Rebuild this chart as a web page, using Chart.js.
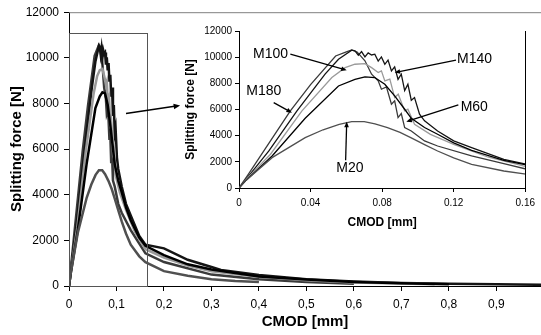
<!DOCTYPE html>
<html>
<head>
<meta charset="utf-8">
<script src="https://cdn.jsdelivr.net/npm/chart.js@4/dist/chart.umd.min.js"></script>
<style>
  html, body { margin: 0; padding: 0; background: #fff; overflow: hidden; }
  #wrap { position: relative; width: 541px; height: 335px; }
  #principal { position: absolute; left: 0; top: 0; }
  #detalhe { position: absolute; left: 180px; top: 20px; }
</style>
</head>
<body>
<div id="wrap">
  <canvas id="principal" width="541" height="335"></canvas>
  <canvas id="detalhe" width="360" height="212"></canvas>
</div>
<script>
// =====================================================
// DADOS — CMOD [mm] x FORÇA [N]
// =====================================================
const seriesNames = ["M20", "M60", "M100", "M140", "M180"];

const cmodM20  = [0, 0.004, 0.0185, 0.037, 0.047, 0.056, 0.063, 0.07, 0.076, 0.083, 0.09, 0.096, 0.104, 0.111, 0.12, 0.13, 0.148, 0.161, 0.2, 0.25, 0.3, 0.35, 0.4];
const forceM20 = [0, 600, 2320, 3850, 4450, 4870, 5070, 5070, 4900, 4610, 4250, 3850, 3300, 2830, 2300, 1810, 1300, 1045, 650, 450, 300, 220, 170];

const cmodM60  = [0, 0.004, 0.0185, 0.037, 0.0556, 0.0648, 0.0704, 0.0759, 0.0815, 0.087, 0.0926, 0.0963, 0.1037, 0.111, 0.12, 0.13, 0.148, 0.161, 0.2, 0.25, 0.3, 0.4, 0.5, 0.6, 0.7, 0.8];
const forceM60 = [0, 600, 2450, 5330, 7800, 8310, 8490, 8440, 7930, 7040, 6020, 5330, 4620, 4110, 3450, 2880, 2120, 1760, 1350, 950, 720, 420, 280, 180, 120, 80];

const cmodM100  = [0, 0.004, 0.0176, 0.0352, 0.0519, 0.0593, 0.0648, 0.0704, 0.0741, 0.0778, 0.0796, 0.0815, 0.0843, 0.087, 0.089, 0.0926, 0.0944, 0.0981, 0.107, 0.12, 0.139, 0.161, 0.2, 0.25, 0.3, 0.4, 0.5, 0.6, 0.77];
const forceM100 = [0, 650, 2580, 5890, 8440, 9200, 9460, 9510, 9200, 8820, 8950, 8190, 8330, 6910, 7170, 5890, 6020, 4870, 4100, 3340, 2370, 1610, 1250, 900, 650, 400, 250, 150, 80];

const cmodM140  = [0, 0.0167, 0.0324, 0.0481, 0.0556, 0.063, 0.0648, 0.0667, 0.0685, 0.0704, 0.0722, 0.0741, 0.0759, 0.0778, 0.0796, 0.0815, 0.0833, 0.0852, 0.087, 0.0889, 0.0907, 0.0926, 0.0944, 0.0963, 0.0981, 0.1009, 0.1037, 0.111, 0.12, 0.13, 0.148, 0.161, 0.2, 0.25, 0.3, 0.32, 0.4, 0.5, 0.6, 0.7, 0.8, 0.9, 1.0];
const forceM140 = [0, 2830, 5890, 8700, 9840, 10530, 10480, 10150, 10430, 10020, 10330, 10170, 10230, 9700, 10020, 9450, 9770, 8950, 9260, 8300, 8700, 7450, 7930, 6700, 6910, 5640, 5130, 4360, 3600, 3090, 2190, 1810, 1650, 1150, 830, 700, 480, 300, 200, 130, 100, 80, 50];

const cmodM180  = [0, 0.005, 0.0287, 0.04, 0.054, 0.06, 0.063, 0.066, 0.0704, 0.0741, 0.0778, 0.0796, 0.0824, 0.0852, 0.087, 0.0889, 0.0907, 0.0926, 0.0963, 0.1037, 0.111, 0.13, 0.148, 0.161, 0.2, 0.3, 0.4, 0.5, 0.6];
const forceM180 = [0, 1000, 5890, 7900, 10090, 10400, 10550, 10400, 9720, 8700, 8190, 7550, 7730, 6400, 6660, 5380, 5690, 4620, 4360, 3600, 3210, 2450, 1860, 1430, 1050, 500, 300, 180, 100];

const seriesCmod  = [cmodM20, cmodM60, cmodM100, cmodM140, cmodM180];
const seriesForce = [forceM20, forceM60, forceM100, forceM140, forceM180];
const seriesColors = ["#505050", "#000000", "#9a9a9a", "#141414", "#3a3a3a"];

// caixa de zoom e seta no gráfico principal (unidades dos eixos)
const boxCmod  = [0, 0.164];
const boxForce = [0, 11100];
const zoomArrowFrom = [0.12, 7560];
const zoomArrowTo   = [0.234, 7910];

// rótulos do detalhe (unidades dos eixos)
const labelAt   = [[0.062, 1550], [0.1315, 6210], [0.0176, 10260], [0.1317, 9860], [0.0139, 7410]];
const arrowFrom = [[0.0596, 2115], [0.1226, 6350], [0.0287, 10225], [0.1213, 9770], [0.0194, 6530]];
const arrowTo   = [[0.0602, 5070], [0.0935, 5070], [0.0602, 9000], [0.087, 8820], [0.0296, 5760]];

const FONTE = "'Liberation Sans', Arial, sans-serif";

// =====================================================
// HELPERS
// =====================================================
function montarDatasets(espessura) {
  return seriesNames.map((nome, i) => ({
    label: nome,
    data: seriesCmod[i].map((x, k) => ({ x, y: seriesForce[i][k] })),
    borderColor: seriesColors[i],
    backgroundColor: seriesColors[i],
    borderWidth: espessura,
    pointRadius: 0,
    showLine: true,
    tension: 0
  }));
}

function desenharSeta(ctx, x1, y1, x2, y2, cabeca) {
  const ang = Math.atan2(y2 - y1, x2 - x1);
  ctx.beginPath();
  ctx.moveTo(x1, y1);
  ctx.lineTo(x2 - Math.cos(ang) * cabeca * 0.8, y2 - Math.sin(ang) * cabeca * 0.8);
  ctx.stroke();
  ctx.beginPath();
  ctx.moveTo(x2, y2);
  ctx.lineTo(x2 - cabeca * Math.cos(ang - 0.4), y2 - cabeca * Math.sin(ang - 0.4));
  ctx.lineTo(x2 - cabeca * Math.cos(ang + 0.4), y2 - cabeca * Math.sin(ang + 0.4));
  ctx.closePath();
  ctx.fill();
}

function eixo(opts) {
  return Object.assign({
    type: "linear",
    border: { display: true, color: "#000", width: 1 }
  }, opts);
}

// =====================================================
// PLUGINS
// =====================================================
const extrasPrincipal = {
  id: "extrasPrincipal",
  afterDatasetsDraw(chart) {
    const { ctx, chartArea: a, scales: { x, y } } = chart;
    ctx.save();
    ctx.lineWidth = 1;
    ctx.strokeStyle = "#808080";
    ctx.beginPath();
    ctx.moveTo(a.left, a.top + 0.5);
    ctx.lineTo(a.right, a.top + 0.5);
    ctx.stroke();

    const bx1 = Math.round(x.getPixelForValue(boxCmod[0])) + 0.5;
    const bx2 = Math.round(x.getPixelForValue(boxCmod[1])) + 0.5;
    const by1 = Math.round(y.getPixelForValue(boxForce[1])) + 0.5;
    const by2 = Math.round(y.getPixelForValue(boxForce[0])) + 0.5;
    ctx.strokeStyle = "#555";
    ctx.strokeRect(bx1, by1, bx2 - bx1, by2 - by1);

    ctx.strokeStyle = "#000";
    ctx.fillStyle = "#000";
    ctx.lineWidth = 1.5;
    desenharSeta(ctx,
      x.getPixelForValue(zoomArrowFrom[0]), y.getPixelForValue(zoomArrowFrom[1]),
      x.getPixelForValue(zoomArrowTo[0]), y.getPixelForValue(zoomArrowTo[1]), 7);
    ctx.restore();
  }
};

const extrasDetalhe = {
  id: "extrasDetalhe",
  afterDatasetsDraw(chart) {
    const { ctx, chartArea: a, scales: { x, y } } = chart;
    ctx.save();
    ctx.strokeStyle = "#000";
    ctx.lineWidth = 1;
    ctx.beginPath();
    ctx.moveTo(Math.round(a.right) + 0.5, a.top);
    ctx.lineTo(Math.round(a.right) + 0.5, a.bottom);
    ctx.stroke();

    ctx.fillStyle = "#000";
    ctx.lineWidth = 1.3;
    seriesNames.forEach((nome, i) => {
      desenharSeta(ctx,
        x.getPixelForValue(arrowFrom[i][0]), y.getPixelForValue(arrowFrom[i][1]),
        x.getPixelForValue(arrowTo[i][0]), y.getPixelForValue(arrowTo[i][1]), 6);
    });

    ctx.font = "14px " + FONTE;
    ctx.textAlign = "center";
    ctx.textBaseline = "middle";
    seriesNames.forEach((nome, i) => {
      ctx.fillText(nome, x.getPixelForValue(labelAt[i][0]), y.getPixelForValue(labelAt[i][1]));
    });
    ctx.restore();
  }
};

// =====================================================
// GRÁFICO PRINCIPAL
// =====================================================
new Chart(document.getElementById("principal"), {
  type: "scatter",
  data: { datasets: montarDatasets(2.5) },
  options: {
    responsive: false,
    animation: false,
    devicePixelRatio: 1,
    layout: { padding: { top: 10, right: 0, left: 0, bottom: 0 } },
    plugins: { legend: { display: false }, tooltip: { enabled: false } },
    scales: {
      x: eixo({
        min: 0,
        max: 0.994,
        afterFit: s => { s.height = 49; },
        grid: { drawOnChartArea: false, drawTicks: true, color: "#000", tickLength: 5 },
        ticks: {
          stepSize: 0.1,
          includeBounds: false,
          padding: 6,
          color: "#000",
          font: { family: FONTE, size: 12 },
          callback: v => String(Math.round(v * 10) / 10).replace(".", ",")
        },
        title: {
          display: true,
          text: "CMOD [mm]",
          color: "#000",
          padding: { top: 0, bottom: 4 },
          font: { family: FONTE, size: 15, weight: "bold" }
        }
      }),
      y: eixo({
        min: 0,
        max: 12000,
        afterFit: s => { s.width = 69; },
        grid: { drawOnChartArea: false, drawTicks: true, color: "#000", tickLength: 5 },
        ticks: {
          stepSize: 2000,
          padding: 5,
          color: "#000",
          font: { family: FONTE, size: 12 },
          callback: v => String(v)
        },
        title: {
          display: true,
          text: "Splitting force [N]",
          color: "#000",
          padding: { top: 8, bottom: 0 },
          font: { family: FONTE, size: 15, weight: "bold" }
        }
      })
    }
  },
  plugins: [extrasPrincipal]
});

// =====================================================
// DETALHE (0 – 0.16 mm)
// =====================================================
new Chart(document.getElementById("detalhe"), {
  type: "scatter",
  data: { datasets: montarDatasets(1.3) },
  options: {
    responsive: false,
    animation: false,
    devicePixelRatio: 1,
    layout: { padding: { top: 11, right: 13, left: 0, bottom: 0 } },
    plugins: { legend: { display: false }, tooltip: { enabled: false } },
    scales: {
      x: eixo({
        min: 0,
        max: 0.16,
        afterFit: s => { s.height = 44; },
        grid: { drawOnChartArea: false, drawTicks: true, color: "#000", tickLength: 4 },
        ticks: {
          stepSize: 0.04,
          padding: 5,
          color: "#000",
          font: { family: FONTE, size: 10 },
          callback: v => String(Math.round(v * 100) / 100)
        },
        title: {
          display: true,
          text: "CMOD [mm]",
          color: "#000",
          padding: { top: 0, bottom: 2 },
          font: { family: FONTE, size: 12, weight: "bold" }
        }
      }),
      y: eixo({
        min: 0,
        max: 12000,
        afterFit: s => { s.width = 59; },
        grid: { drawOnChartArea: false, drawTicks: true, color: "#000", tickLength: 4 },
        ticks: {
          stepSize: 2000,
          padding: 3,
          color: "#000",
          font: { family: FONTE, size: 10 },
          callback: v => String(v)
        },
        title: {
          display: true,
          text: "Splitting force [N]",
          color: "#000",
          padding: { top: 3, bottom: 0 },
          font: { family: FONTE, size: 12, weight: "bold" }
        }
      })
    }
  },
  plugins: [extrasDetalhe]
});
</script>
</body>
</html>
